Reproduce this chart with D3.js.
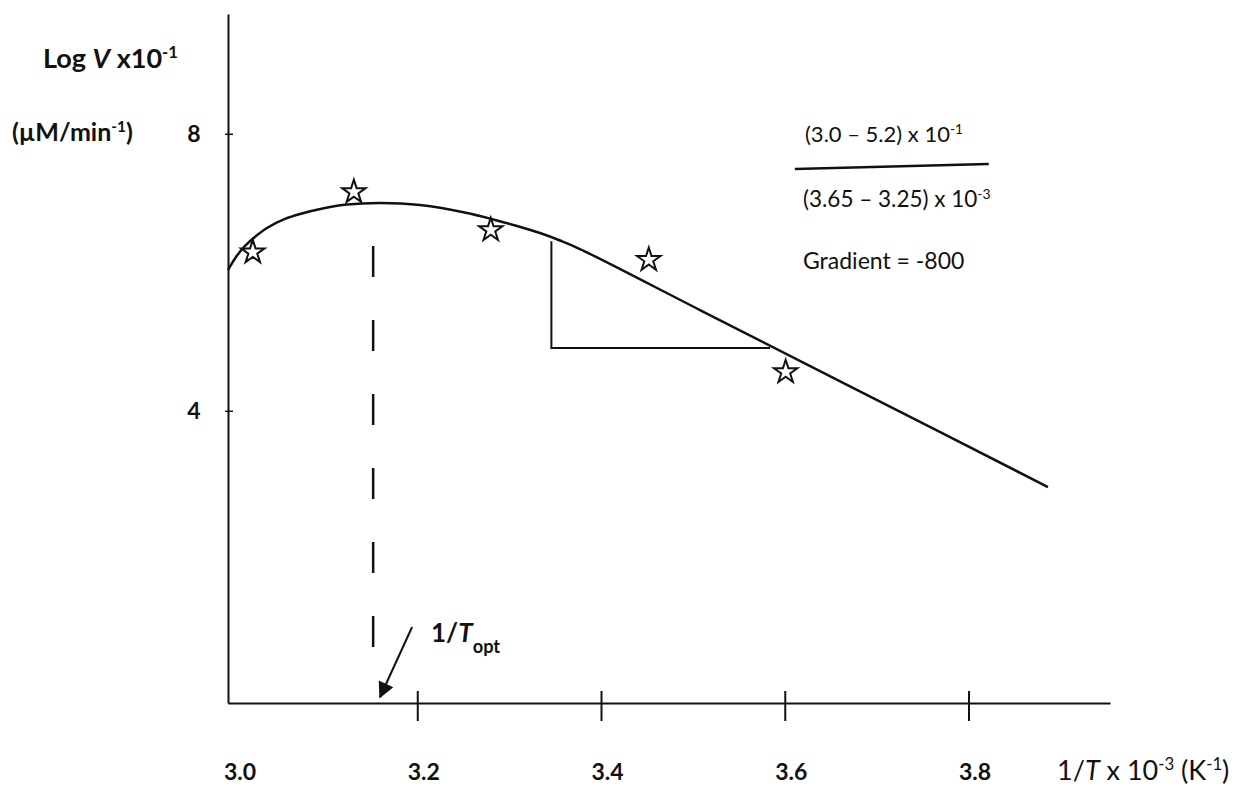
<!DOCTYPE html>
<html>
<head>
<meta charset="utf-8">
<script src="https://cdn.jsdelivr.net/npm/d3@7"></script>
<style>
  body { margin: 0; background: #fff; }
  svg { font-family: "Lato", "Liberation Sans", sans-serif; }
</style>
</head>
<body>
<div id="chart"></div>
<script>
// data
var curveX = [2.994, 3.0027, 3.0125, 3.0245, 3.0364, 3.056, 3.0724, 3.0996, 3.1235, 3.1594,
              3.203, 3.2541, 3.3086, 3.3336, 3.3554, 3.3771, 3.5077, 3.671, 3.8865];
var curveY = [6.033, 6.221, 6.380, 6.524, 6.640, 6.770, 6.842, 6.928, 6.979, 7.001,
              6.972, 6.856, 6.668, 6.567, 6.459, 6.336, 5.455, 4.354, 2.899];

var starX = [3.021, 3.131, 3.280, 3.452, 3.601];
var starY = [6.29, 7.16, 6.61, 6.18, 4.56];

var triX = [3.346, 3.346, 3.584];
var triY = [6.45, 4.906, 4.906];

var xTicks = [3.0, 3.2, 3.4, 3.6, 3.8];
var yTicks = [4, 8];

var tOptX = 3.152;
var tOptY = [6.38, 0.59];

var arrowX = [3.1944, 3.1595];
var arrowY = [0.877, -0.133];

var fracX = [3.611, 3.822];
var fracY = [7.491, 7.563];

var width = 1247, height = 787;

var svg = d3.select("#chart")
  .append("svg")
    .attr("width", width)
    .attr("height", height);

// scales
var x = d3.scaleLinear().domain([2.994, 3.954]).range([228, 1110]);
var y = d3.scaleLinear().domain([-0.22, 9.73]).range([703, 14]);

var ink = "#111";

// arrow marker
svg.append("defs").append("marker")
  .attr("id", "arrow")
  .attr("viewBox", "0 0 10 10")
  .attr("refX", 9)
  .attr("refY", 5)
  .attr("markerWidth", 20)
  .attr("markerHeight", 16)
  .attr("markerUnits", "userSpaceOnUse")
  .attr("orient", "auto")
  .append("path")
    .attr("d", "M0,0 L10,5 L0,10 z")
    .attr("fill", ink);

// X axis
var xAxis = svg.append("g")
  .attr("transform", "translate(0," + y(-0.22) + ")")
  .call(d3.axisBottom(x).tickValues(xTicks).tickSizeOuter(0).tickFormat(d3.format(".1f")));
xAxis.select(".domain").attr("stroke", ink).attr("stroke-width", 2);
xAxis.selectAll(".tick line")
  .attr("y1", -12).attr("y2", 18)
  .attr("stroke", ink).attr("stroke-width", 2)
  .style("display", function(d) { return d === 3.0 ? "none" : null; });
xAxis.selectAll(".tick text")
  .attr("x", 6).attr("y", 77).attr("dy", 0)
  .attr("fill", ink)
  .style("font-family", "Lato")
  .style("font-size", "23px")
  .style("font-weight", "bold");

// Y axis
var yAxis = svg.append("g")
  .attr("transform", "translate(" + x(2.994) + ",0)")
  .call(d3.axisLeft(y).tickValues(yTicks).tickSizeOuter(0).tickFormat(d3.format("d")));
yAxis.select(".domain").attr("stroke", ink).attr("stroke-width", 2);
yAxis.selectAll(".tick line")
  .attr("x1", -3).attr("x2", 5)
  .attr("stroke", ink).attr("stroke-width", 1.5);
yAxis.selectAll(".tick text")
  .attr("x", -34).attr("dy", "0.35em")
  .attr("text-anchor", "middle")
  .attr("fill", ink)
  .style("font-family", "Lato")
  .style("font-size", "23px")
  .style("font-weight", "bold");

// fitted curve
var curveData = curveX.map(function(d, i) { return {x: d, y: curveY[i]}; });
svg.append("path")
  .datum(curveData)
  .attr("fill", "none")
  .attr("stroke", ink)
  .attr("stroke-width", 2.5)
  .attr("d", d3.line()
    .x(function(d) { return x(d.x); })
    .y(function(d) { return y(d.y); })
    .curve(d3.curveCatmullRom.alpha(0.5))
  );

// gradient triangle
var triData = triX.map(function(d, i) { return {x: d, y: triY[i]}; });
svg.append("path")
  .datum(triData)
  .attr("fill", "none")
  .attr("stroke", ink)
  .attr("stroke-width", 2)
  .attr("d", d3.line()
    .x(function(d) { return x(d.x); })
    .y(function(d) { return y(d.y); })
  );

// 1/Topt dashed line
svg.append("line")
  .attr("x1", x(tOptX)).attr("x2", x(tOptX))
  .attr("y1", y(tOptY[0])).attr("y2", y(tOptY[1]))
  .attr("stroke", ink)
  .attr("stroke-width", 2.5)
  .attr("stroke-dasharray", "31,43");

// arrow
svg.append("line")
  .attr("x1", x(arrowX[0])).attr("y1", y(arrowY[0]))
  .attr("x2", x(arrowX[1])).attr("y2", y(arrowY[1]))
  .attr("stroke", ink)
  .attr("stroke-width", 2)
  .attr("marker-end", "url(#arrow)");

// stars
svg.selectAll(".star")
  .data(starX)
  .enter().append("path")
    .attr("class", "star")
    .attr("transform", function(d, i) { return "translate(" + x(d) + "," + y(starY[i]) + ")"; })
    .attr("d", d3.symbol().type(d3.symbolStar).size(170))
    .attr("fill", "#fff")
    .attr("stroke", ink)
    .attr("stroke-width", 2);

// fraction line
svg.append("line")
  .attr("x1", x(fracX[0])).attr("y1", y(fracY[0]))
  .attr("x2", x(fracX[1])).attr("y2", y(fracY[1]))
  .attr("stroke", ink)
  .attr("stroke-width", 2.5);

// annotation text
function supText(sel, parts) {
  parts.forEach(function(p) {
    var t = sel.append("tspan").text(p.t);
    if (p.sup) t.attr("baseline-shift", "super").style("font-size", "0.62em");
    if (p.sub) t.attr("baseline-shift", "sub").style("font-size", "0.7em");
    if (p.it) t.style("font-style", "italic");
  });
}

var t1 = svg.append("text").attr("x", 805).attr("y", 142).attr("fill", ink).style("font-size", "22px");
supText(t1, [{t: "(3.0 \u2013 5.2) x 10"}, {t: "-1", sup: true}]);

var t2 = svg.append("text").attr("x", 803).attr("y", 207).attr("fill", ink).style("font-size", "22.5px");
supText(t2, [{t: "(3.65 \u2013 3.25) x 10"}, {t: "-3", sup: true}]);

svg.append("text").attr("x", 803).attr("y", 269).attr("fill", ink)
  .style("font-size", "23px").text("Gradient = -800");

// 1/Topt label
var t3 = svg.append("text").attr("x", 431).attr("y", 642).attr("fill", ink)
  .style("font-size", "26px").style("font-weight", "bold");
supText(t3, [{t: "1/"}, {t: "T", it: true}, {t: "opt", sub: true}]);

// Y axis label
var t4 = svg.append("text").attr("x", 43).attr("y", 68).attr("fill", ink)
  .style("font-size", "27px").style("font-weight", "bold");
supText(t4, [{t: "Log "}, {t: "V", it: true}, {t: " x10"}, {t: "-1", sup: true}]);

var t5 = svg.append("text").attr("x", 12).attr("y", 141).attr("fill", ink)
  .style("font-size", "25px").style("font-weight", "bold");
supText(t5, [{t: "(\u00b5M/min"}, {t: "-1", sup: true}, {t: ")"}]);

// X axis label
var t6 = svg.append("text").attr("x", 1057).attr("y", 780).attr("fill", ink)
  .style("font-size", "27px");
supText(t6, [{t: "1/"}, {t: "T", it: true}, {t: " x 10"}, {t: "-3", sup: true}, {t: " (K"}, {t: "-1", sup: true}, {t: ")"}]);
</script>
</body>
</html>
